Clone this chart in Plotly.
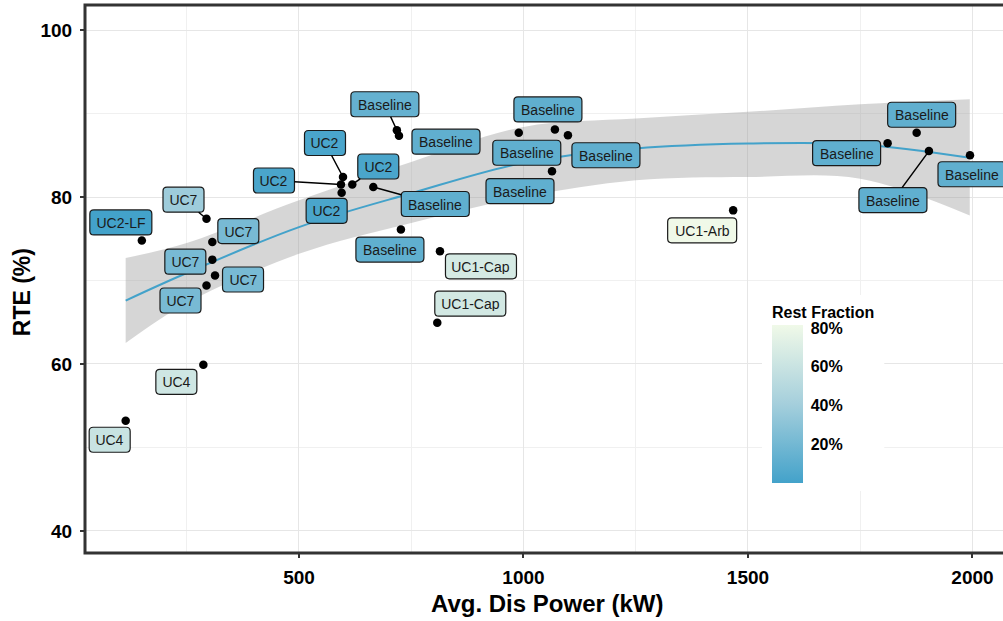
import plotly.graph_objects as go
from plotly.colors import sample_colorscale

# ---- data -----------------------------------------------------------------
case = ["UC2-LF", "UC7", "UC7", "UC7", "UC7", "UC7",
        "UC2", "UC2", "UC2", "UC2",
        "Baseline", "Baseline", "Baseline", "Baseline",
        "UC1-Cap", "UC1-Cap",
        "Baseline", "Baseline", "Baseline", "Baseline",
        "UC1-Arb",
        "Baseline", "Baseline", "Baseline", "Baseline",
        "UC4", "UC4"]
dis_power = [150, 294, 307, 307, 313, 294,
             598, 593.5, 595, 618.7,
             665.5, 727, 718, 722.7,
             814, 808,
             989.5, 1070, 1099, 1063.5,
             1467,
             1875.7, 1811, 1903, 1994.5,
             287, 114]
rte = [74.8, 77.4, 74.6, 72.5, 70.6, 69.4,
       82.4, 81.5, 80.5, 81.5,
       81.2, 76.1, 88.0, 87.35,
       73.5, 64.95,
       87.7, 88.1, 87.4, 83.1,
       78.4,
       87.7, 86.45, 85.5, 85.0,
       59.9, 53.2]
rest_fraction = [0, 38, 22, 22, 22, 22,
                 3, 3, 3, 3,
                 12, 12, 14, 12,
                 67, 65,
                 12, 12, 12, 12,
                 81.5,
                 12, 12, 12, 12,
                 63, 60]

# smoothed trend with its confidence band
fit_x = [114, 250, 500, 750, 1000, 1250, 1500, 1750, 1994]
fit_y = [67.6, 70.9, 76.4, 80.45, 84.1, 85.8, 86.4, 86.3, 84.7]
fit_lo = [62.5, 67.3, 73.2, 76.9, 80.0, 82.0, 82.4, 82.2, 77.8]
fit_hi = [72.7, 74.5, 79.6, 84.2, 88.4, 89.4, 90.2, 91.1, 91.7]

# ---- label placement (pixel offsets from each point) ----------------------
label_dx = [-21, -23, 26, -27, 28, -26,
            -18, -67, -15, 26,
            62, -11, -12, 47,
            41, 33,
            8, -7, 38, -32,
            -31,
            5, -41, -36, 2,
            -27, -16]
label_dy = [-18, -19, -11, 2, 4, 15,
            -34, -4, 18, -18,
            17, 20, -26, 6,
            15, -19,
            20, -20, 20, 20,
            20,
            -18, 10, 49, 19,
            17, 19]
label_segment = [False, True, False, False, False, False,
                 True, True, False, True,
                 True, False, True, False,
                 False, False,
                 False, False, False, False,
                 False,
                 False, False, True, False,
                 False, False]
# outer label box sizes in pixels
box_w = {"Baseline": 68, "UC2": 41, "UC7": 41, "UC4": 41,
         "UC1-Cap": 71, "UC2-LF": 62, "UC1-Arb": 69}
BOX_H = 25
RADIUS = 4

colorscale = [[0.0, "#43a2ca"], [0.5, "#a5cfdc"], [1.0, "#f0f9e8"]]
cmin, cmax = min(rest_fraction), max(rest_fraction)

FONT = "Liberation Sans, Arial, sans-serif"

fig = go.Figure()

# confidence band (lower edge, then upper edge filled down to it)
fig.add_trace(go.Scatter(
    x=fit_x, y=fit_lo, mode="lines",
    line=dict(width=0, shape="spline"),
    hoverinfo="skip", showlegend=False))
fig.add_trace(go.Scatter(
    x=fit_x, y=fit_hi, mode="lines", fill="tonexty",
    fillcolor="rgba(153,153,153,0.4)",
    line=dict(width=0, shape="spline"),
    hoverinfo="skip", showlegend=False))

# trend line
fig.add_trace(go.Scatter(
    x=fit_x, y=fit_y, mode="lines",
    line=dict(color="#43a2ca", width=2, shape="spline"),
    hoverinfo="skip", showlegend=False))

# points
fig.add_trace(go.Scatter(
    x=dis_power, y=rte, mode="markers",
    marker=dict(color="black", size=8.5),
    text=case, showlegend=False))

# colour scale carrier for the rest-fraction colourbar
fig.add_trace(go.Scatter(
    x=dis_power, y=rte, mode="markers", hoverinfo="skip", showlegend=False,
    marker=dict(
        color=rest_fraction, colorscale=colorscale, cmin=cmin, cmax=cmax,
        opacity=0, size=1,
        colorbar=dict(
            title=dict(text="<b>Rest Fraction</b>", side="top",
                       font=dict(family=FONT, size=16, color="black")),
            x=0.7375, xanchor="left", y=0.113, yanchor="bottom",
            lenmode="pixels", len=196, thickness=31, thicknessmode="pixels",
            tickvals=[20, 40, 60, 80], ticktext=["20%", "40%", "60%", "80%"],
            ticks="outside", ticklen=5, tickcolor="white", tickwidth=1,
            tickfont=dict(family=FONT, size=16, color="black", weight="bold"),
            outlinewidth=0, bgcolor="white", xpad=10, ypad=8))))


def rounded_box(cx, cy, w, h, r):
    x0, x1 = cx - w / 2, cx + w / 2
    y0, y1 = cy - h / 2, cy + h / 2
    return (f"M {x0 + r},{y0} L {x1 - r},{y0} Q {x1},{y0} {x1},{y0 + r} "
            f"L {x1},{y1 - r} Q {x1},{y1} {x1 - r},{y1} "
            f"L {x0 + r},{y1} Q {x0},{y1} {x0},{y1 - r} "
            f"L {x0},{y0 + r} Q {x0},{y0} {x0 + r},{y0} Z")


# case labels: rounded boxes filled by rest fraction, text + leader segments
shapes = []
annotations = []
for i, name in enumerate(case):
    t = (rest_fraction[i] - cmin) / (cmax - cmin)
    fill = sample_colorscale(colorscale, [t])[0]
    w = box_w[name]
    shapes.append(dict(
        type="path", xref="x", yref="y",
        xsizemode="pixel", ysizemode="pixel",
        xanchor=dis_power[i], yanchor=rte[i],
        path=rounded_box(label_dx[i], -label_dy[i], w, BOX_H, RADIUS),
        fillcolor=fill, line=dict(color="#1a1a1a", width=1.2), layer="above"))
    ann = dict(x=dis_power[i], y=rte[i], xref="x", yref="y", text=name,
               bgcolor="rgba(0,0,0,0)", borderwidth=0, borderpad=5,
               width=w - 10, height=BOX_H - 10,
               font=dict(family=FONT, size=14, color="#1a1a1a"))
    if label_segment[i]:
        ann.update(showarrow=True, ax=label_dx[i], ay=label_dy[i],
                   arrowhead=0, arrowwidth=1.5, arrowcolor="black", standoff=0)
    else:
        ann.update(showarrow=False, xshift=label_dx[i], yshift=-label_dy[i])
    annotations.append(ann)

# axis titles
annotations.append(dict(text="Avg. Dis Power (kW)", xref="paper", yref="paper",
                        x=0.5033, y=-0.093, xanchor="center", yanchor="middle",
                        showarrow=False,
                        font=dict(family=FONT, size=24, color="black", weight="bold")))
annotations.append(dict(text="RTE (%)", xref="paper", yref="paper",
                        x=-0.0686, y=0.476, xanchor="center", yanchor="middle",
                        textangle=-90, showarrow=False,
                        font=dict(family=FONT, size=23, color="black", weight="bold")))

# panel border (right edge runs past the page)
shapes.append(dict(type="rect", xref="paper", yref="paper",
                   x0=0, x1=1.03, y0=0, y1=1,
                   line=dict(color="#333333", width=3)))

axis_font = dict(family=FONT, size=19, color="black", weight="bold")

fig.update_layout(
    width=1003, height=621,
    margin=dict(l=85, r=0, t=5, b=68),
    paper_bgcolor="white", plot_bgcolor="white",
    annotations=annotations,
    shapes=shapes,
    xaxis=dict(
        range=[23.4, 2068], tick0=0, dtick=500,
        showgrid=True, gridcolor="#e6e6e6", gridwidth=1.2, zeroline=False,
        minor=dict(dtick=250, showgrid=True, gridcolor="#f0f0f0", gridwidth=1),
        ticks="outside", ticklen=4, tickwidth=1.5, tickcolor="#333333",
        ticklabelstandoff=3, tickfont=axis_font),
    yaxis=dict(
        range=[37.36, 103.0], tick0=0, dtick=20,
        showgrid=True, gridcolor="#e6e6e6", gridwidth=1.2, zeroline=False,
        minor=dict(dtick=10, showgrid=True, gridcolor="#f0f0f0", gridwidth=1),
        ticks="outside", ticklen=4, tickwidth=1.5, tickcolor="#333333",
        ticklabelstandoff=4, tickfont=axis_font),
)

fig.write_html("out.html")
